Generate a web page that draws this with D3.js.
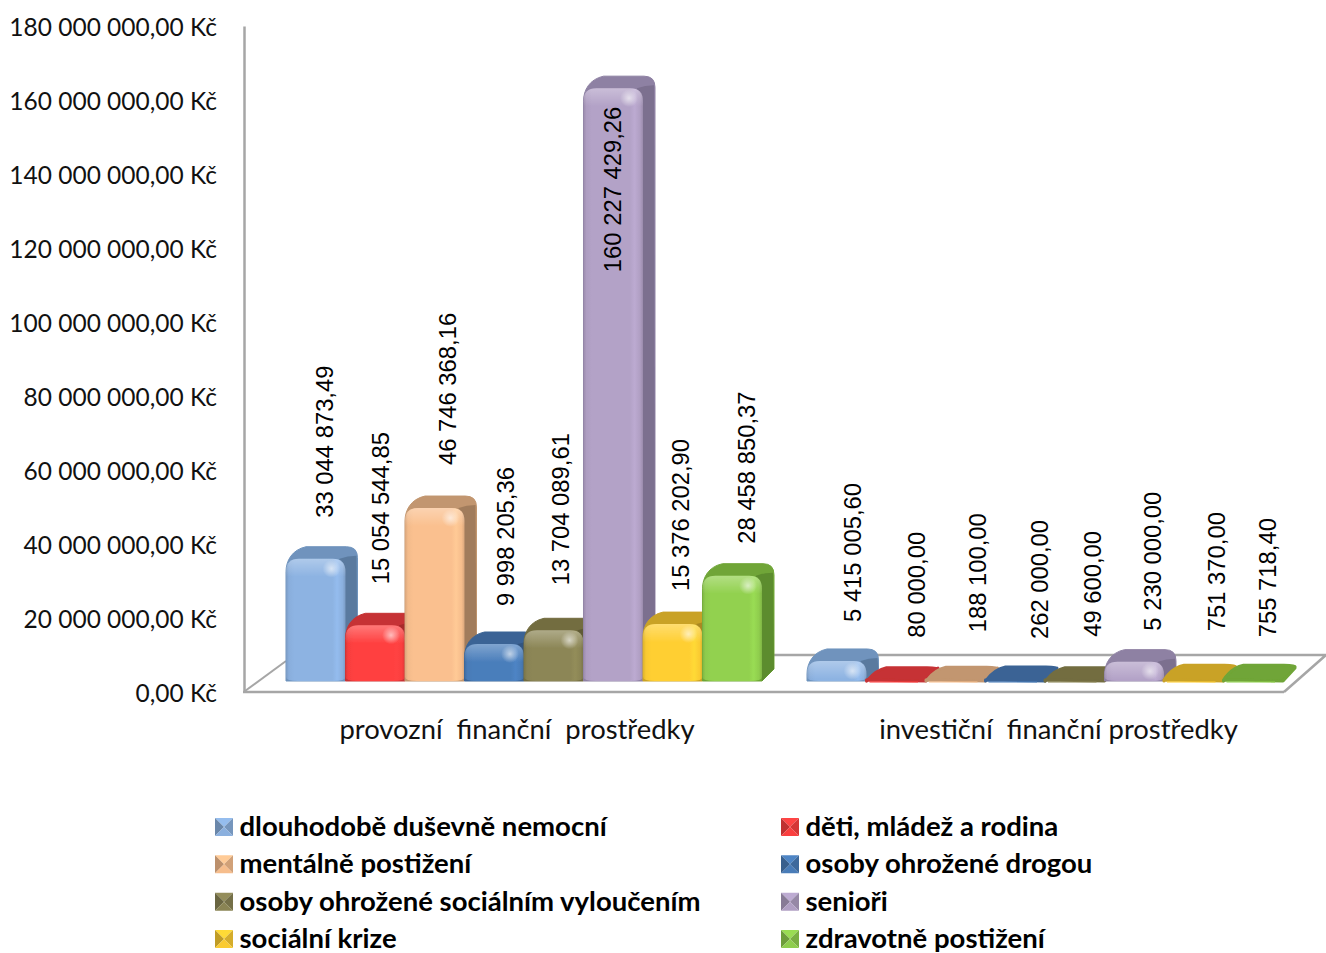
<!DOCTYPE html>
<html><head><meta charset="utf-8">
<script src="https://cdn.jsdelivr.net/npm/d3@7"></script>
<style>html,body{margin:0;background:#fff}svg{display:block}</style>
</head><body><svg id="c" width="1326" height="953"></svg>
<script>
const categories=["provozní  finanční  prostředky","investiční  finanční prostředky"];
const seriesNames=["dlouhodobě duševně nemocní","děti, mládež a rodina","mentálně postižení","osoby ohrožené drogou","osoby ohrožené sociálním vyloučením","senioři","sociální krize","zdravotně postižení"];
const provozni=[33044873.49,15054544.85,46746368.16,9998205.36,13704089.61,160227429.26,15376202.90,28458850.37];
const investicni=[5415005.60,80000,188100,262000,49600,5230000,751370,755718.40];
const tickValues=[0,20e6,40e6,60e6,80e6,100e6,120e6,140e6,160e6,180e6];
const frontColors=["#8DB3E2","#FF4040","#FAC08F","#4A7EBB","#8C8656","#B3A2C7","#FFCF33","#92D14F"];
const topColors=["#6F93BD","#C63234","#C2966F","#3B6495","#736D40","#8E81A3","#C9A227","#6FA537"];
const sideColors=["#5A7A9F","#A82A2C","#A17C5C","#335580","#5F5A34","#7B6F8F","#A98820","#5C8C2D"];
// hand-placed data label nudges in the original: [x offset from bar centre, gap between bar top and text]
const labelNudgeProvozni=[[9,41],[5,41],[13,43],[11,38],[7,45],[-1,-184],[8,33],[14,32]];
const labelNudgeInvesticni=[[16,39],[20,43],[22,48],[24,41],[18,44],[18,31],[23,47],[14,41]];
const categoryNudge=[-7,13.5];

const svg=d3.select("#c"),defs=svg.append("defs");
const y=d3.scaleLinear().domain([0,180e6]).range([692,26]);
const base=681, barScale=d3.scaleLinear().domain([0,180e6]).range([base,base-666]);
const x0=d3.scaleBand().domain(categories).range([286,1283]).paddingInner(0.0864);
const x1=d3.scaleBand().domain(d3.range(8)).range([0,x0.bandwidth()]);
const fmt=v=>{const s=d3.format(",.2f")(v);return s.replace(/,/g," ").replace(".",",");};
const axisFont="Lato, sans-serif", labelFont="'Liberation Sans', Arial, sans-serif";

// floor
const gray="#a6a6a6";
svg.append("path").attr("fill","none").attr("stroke",gray).attr("stroke-width",2.5)
 .attr("d",`M${x0.range()[1]+1},${y(0)}L1326,${y(0)-37}L${x0.range()[0]},${y(0)-37}`);
svg.append("path").attr("fill","none").attr("stroke",gray).attr("stroke-width",2)
 .attr("d",`M245,${y(0)-1}L${x0.range()[0]},${y(0)-31}`);

// axis
const axis=d3.axisLeft(y).tickValues(tickValues).tickSize(0).tickPadding(27).tickFormat(v=>fmt(v)+" Kč");
const ag=svg.append("g").attr("transform","translate(244,0)").call(axis);
ag.select(".domain").attr("stroke",gray).attr("stroke-width",2.5);
ag.selectAll("text").attr("font-family",axisFont).attr("font-size",24.5).attr("fill","#111").attr("dy","0.38em");
svg.append("line").attr("x1",243).attr("x2",x0.range()[1]+1).attr("y1",y(0)).attr("y2",y(0)).attr("stroke",gray).attr("stroke-width",2.5);

// gradients
frontColors.forEach((c,i)=>{
 const g=defs.append("linearGradient").attr("id","f"+i);
 const d=d3.color(c);
 [[0,d.darker(.4)],[.05,d.darker(.08)],[.14,d],[.78,d],[.86,d.brighter(.14)],[.95,d.darker(.05)],[1,d.darker(.4)]]
  .forEach(([o,k])=>g.append("stop").attr("offset",o).attr("stop-color",k));
});
const sh=defs.append("linearGradient").attr("id","bevel").attr("x2",0).attr("y2",1);
sh.append("stop").attr("offset",0).attr("stop-color","#fff").attr("stop-opacity",.3);
sh.append("stop").attr("offset",1).attr("stop-color","#fff").attr("stop-opacity",0);
const hl=defs.append("radialGradient").attr("id","spec");
hl.append("stop").attr("offset",0).attr("stop-color","#fff").attr("stop-opacity",.6);
hl.append("stop").attr("offset",1).attr("stop-color","#fff").attr("stop-opacity",0);
defs.append("filter").attr("id","soft").append("feGaussianBlur").attr("stdDeviation",.7);

function bar(g,cat,i,v){
 const x=x0(cat)+x1(i),w=x1.bandwidth(),b=base,t=barScale(v),h=b-t;
 const flat=h<4, dx=12, dy=flat?13:12, r=Math.min(13,h), r2=Math.min(4,h/2), tb=t-dy;
 const gb=g.append("g").attr("filter","url(#soft)");
 // silhouette / top face
 gb.append("path").attr("fill",topColors[i]).attr("stroke",topColors[i]).attr("stroke-width",flat?3:1).attr("stroke-linejoin","round")
  .attr("d",`M${x},${b-(flat?1:0)}L${x},${t+r}C${x},${t+2} ${x+dx-6},${tb+3} ${x+dx+8},${tb}L${x+w+dx-11},${tb}Q${x+w+dx},${tb} ${x+w+dx},${tb+(flat?1:11)}L${x+w+dx},${b-dy}L${x+w},${b}Z`);
 if(h>=4){
  // right side
  gb.append("path").attr("fill",sideColors[i])
   .attr("d",`M${x+w-6},${t}Q${x+w+2},${t-3} ${x+w+dx-1},${tb+9}L${x+w+dx},${b-dy}L${x+w},${b}Z`);
  // front
  const front=`M${x},${b-r2}L${x},${t+r}Q${x},${t} ${x+r},${t}L${x+w-r},${t}Q${x+w},${t} ${x+w},${t+r}L${x+w},${b-r2}Q${x+w},${b} ${x+w-r2*3},${b}L${x+r2*3},${b}Q${x},${b} ${x},${b-r2}Z`;
  gb.append("path").attr("fill",`url(#f${i})`).attr("d",front);
  const bh=Math.min(18,h);
  gb.append("path").attr("fill","url(#bevel)")
   .attr("d",`M${x},${t+bh}L${x},${t+r}Q${x},${t} ${x+r},${t}L${x+w-r},${t}Q${x+w},${t} ${x+w},${t+r}L${x+w},${t+bh}Z`);
  gb.append("circle").attr("cx",x+w-14).attr("cy",t+Math.min(10,h/2)).attr("r",Math.min(9,h/2)).attr("fill","url(#spec)");
 } else {
  gb.append("path").attr("fill","none").attr("stroke",d3.color(frontColors[i])).attr("stroke-width",1.5).attr("stroke-opacity",.7)
   .attr("d",`M${x+3},${b+1}L${x+w-8},${b+1}`);
 }
}
const rows=[[categories[0],provozni,labelNudgeProvozni],[categories[1],investicni,labelNudgeInvesticni]];
const barsG=svg.append("g");
rows.forEach(([cat,vals])=>vals.forEach((v,i)=>bar(barsG,cat,i,v)));
// data labels
rows.forEach(([cat,vals,nudge])=>vals.forEach((v,i)=>{
 const cx=x0(cat)+x1(i)+x1.bandwidth()/2+nudge[i][0], yy=barScale(v)-nudge[i][1];
 svg.append("text").attr("transform",`translate(${cx},${yy}) rotate(-90)`).attr("dy","0.36em")
  .attr("font-family",labelFont).attr("font-size",23.8).attr("fill","#000").text(fmt(v));
}));
// category labels
rows.forEach(([cat],k)=>{
 svg.append("text").attr("x",x0(cat)+x0.bandwidth()/2+categoryNudge[k]).attr("y",739).attr("text-anchor","middle")
  .attr("font-family",axisFont).attr("font-size",27.4).attr("fill","#111").style("white-space","pre").text(cat);
});
// legend
const legX=d3.scalePoint().domain([0,1]).range([215,781]);
const legY=d3.scalePoint().domain(d3.range(4)).range([827,939]);
seriesNames.forEach((n,i)=>{
 const col=i%2,row=Math.floor(i/2),lx=legX(col),ly=legY(row),s=18,c=d3.color(frontColors[i]);
 const g=svg.append("g").attr("transform",`translate(${lx},${ly-s/2})`);
 const m=[s/2,s/2];
 [[[0,0],[s,0],c.brighter(.15)],[[0,0],[0,s],c.darker(.8)],[[s,0],[s,s],c.darker(.5)],[[0,s],[s,s],c.darker(.05)]]
  .forEach(([a,b,k])=>g.append("path").attr("fill",k).attr("d",d3.line()([a,b,m])+"Z"));
 svg.append("text").attr("x",lx+24.5).attr("y",ly+9).attr("font-family",axisFont).attr("font-weight",700)
  .attr("font-size",27.5).attr("fill","#000").text(n);
});
</script></body></html>
